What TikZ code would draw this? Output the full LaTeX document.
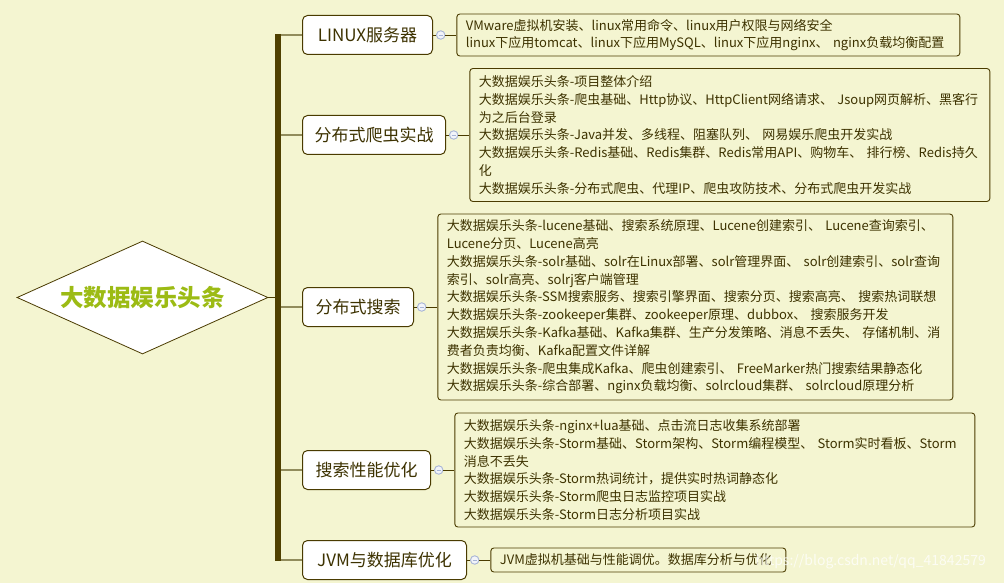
\documentclass[tikz,border=0pt]{standalone}
\usepackage{fontspec}
\setmainfont{Noto Sans CJK SC}
\usepackage{tikz}
\usetikzlibrary{positioning,shapes.geometric}

\definecolor{paper}{HTML}{F4F5D1}
\definecolor{edge}{HTML}{4A3B00}
\definecolor{stem}{HTML}{4F4000}
\definecolor{branchc}{HTML}{918C5C}
\definecolor{ink}{HTML}{3D3200}
\definecolor{lime}{HTML}{9CBB14}
\definecolor{foldc}{HTML}{A7B4D6}

\hyphenpenalty=10000
\exhyphenpenalty=10000

\begin{document}
\begin{tikzpicture}[x=1pt,y=-1pt,
    topic/.style={draw=edge, line width=1pt, fill=white, rounded corners=5pt,
      minimum height=39pt, inner sep=0pt, anchor=west, text=ink,
      font={\fontsize{17}{20}\selectfont}},
    detail/.style={draw=edge, line width=0.9pt, rounded corners=3pt,
      inner xsep=9pt, inner ysep=0pt, align=left, text=ink,
      font={\fontsize{13}{17.8}\selectfont}},
    fold/.style={circle, draw=foldc, fill=white!85!foldc, line width=0.9pt,
      minimum size=8.5pt, inner sep=0pt,
      path picture={\draw[foldc, line width=0.9pt]
        ([xshift=-2pt]path picture bounding box.center) --
        ([xshift=2pt]path picture bounding box.center);}},
    twig/.style={draw=edge, line width=0.9pt},
    branch/.style={draw=branchc, line width=2.2pt},
    spine/.style={draw=stem, line width=6pt}]

  \useasboundingbox (0,0) rectangle (1004,583);
  \fill[paper] (0,0) rectangle (1004,583);

  % root
  \node[diamond, draw=edge, fill=white, line width=0.8pt, aspect=2.22,
    minimum width=251pt, minimum height=113pt, inner sep=0pt, text=lime,
    font={\bfseries\fontsize{23.5}{28}\selectfont}] (root) at (142.5,297.5) {大数据娱乐头条};

  % trunk
  \coordinate (ttop) at (277.5,34);
  \coordinate (tbot) at (277.5,561);

  % topics
  \node[topic, minimum width=130pt] (linux) at (302,35) {LINUX服务器};
  \node[topic, minimum width=143pt] (crawler) at (302,135) {分布式爬虫实战};
  \node[topic, minimum width=111pt] (search) at (302,307) {分布式搜索};
  \node[topic, minimum width=128pt] (tuning) at (302,470) {搜索性能优化};
  \node[topic, minimum width=164pt] (jvm) at (302,560) {JVM与数据库优化};

  % fold markers
  \node[fold, right=3pt of linux] (flinux) {};
  \node[fold, right=3pt of crawler] (fcrawler) {};
  \node[fold, right=3pt of search] (fsearch) {};
  \node[fold, right=3pt of tuning] (ftuning) {};
  \node[fold, right=3pt of jvm] (fjvm) {};

  % details
  \node[detail, text width=485pt, minimum height=42pt, right=11pt of flinux] (dlinux) {%
    VMware虚拟机安装、linux常用命令、linux用户权限与网络安全\\
    linux下应用tomcat、linux下应用MySQL、linux下应用nginx、~nginx负载均衡配置};
  \node[detail, text width=502pt, minimum height=133pt, right=11pt of fcrawler] (dcrawler) {%
    大数据娱乐头条-项目整体介绍\\
    大数据娱乐头条-爬虫基础、Http协议、HttpClient网络请求、~Jsoup网页解析、黑客行\\
    为之后台登录\\
    大数据娱乐头条-Java并发、多线程、阻塞队列、~网易娱乐爬虫开发实战\\
    大数据娱乐头条-Redis基础、Redis集群、Redis常用API、购物车、~排行榜、Redis持久\\
    化\\
    大数据娱乐头条-分布式爬虫、代理IP、爬虫攻防技术、分布式爬虫开发实战};
  \node[detail, text width=497pt, minimum height=186pt, right=11pt of fsearch] (dsearch) {%
    大数据娱乐头条-lucene基础、搜索系统原理、Lucene创建索引、~Lucene查询索引、\\
    Lucene分页、Lucene高亮\\
    大数据娱乐头条-solr基础、solr在Linux部署、solr管理界面、~solr创建索引、solr查询\\
    索引、solr高亮、solrj客户端管理\\
    大数据娱乐头条-SSM搜索服务、搜索引擎界面、搜索分页、搜索高亮、~搜索热词联想\\
    大数据娱乐头条-zookeeper集群、zookeeper原理、dubbox、~搜索服务开发\\
    大数据娱乐头条-Kafka基础、Kafka集群、生产分发策略、消息不丢失、~存储机制、消\\
    费者负责均衡、Kafka配置文件详解\\
    大数据娱乐头条-爬虫集成Kafka、爬虫创建索引、~FreeMarker热门搜索结果静态化\\
    大数据娱乐头条-综合部署、nginx负载均衡、solrcloud集群、~solrcloud原理分析};
  \node[detail, text width=502pt, minimum height=114pt, right=11pt of ftuning] (dtuning) {%
    大数据娱乐头条-nginx+lua基础、点击流日志收集系统部署\\
    大数据娱乐头条-Storm基础、Storm架构、Storm编程模型、~Storm实时看板、Storm\\
    消息不丢失\\
    大数据娱乐头条-Storm热词统计，提供实时热词静态化\\
    大数据娱乐头条-Storm爬虫日志监控项目实战\\
    大数据娱乐头条-Storm日志分析项目实战};
  \node[detail, text width=277pt, minimum height=24pt, right=11pt of fjvm] (djvm) {%
    JVM虚拟机基础与性能调优。数据库分析与优化};

  % connectors
  \draw[twig] (root.east) -- (root.east -| ttop);
  \foreach \t in {linux,crawler,search,tuning,jvm}{
    \draw[branch] (\t.west -| ttop) -- (\t.west);
    \draw[twig] (\t) -- (f\t);
    \draw[twig] (f\t) -- (d\t);
  }
  \draw[spine] (ttop) -- (tbot);

  % watermark
  \node[anchor=west, text=white, opacity=0.75, font={\fontsize{14}{16}\selectfont}] (mark)
    at (752,562) {https://blog.csdn.net/qq\_41842579};
\end{tikzpicture}
\end{document}
